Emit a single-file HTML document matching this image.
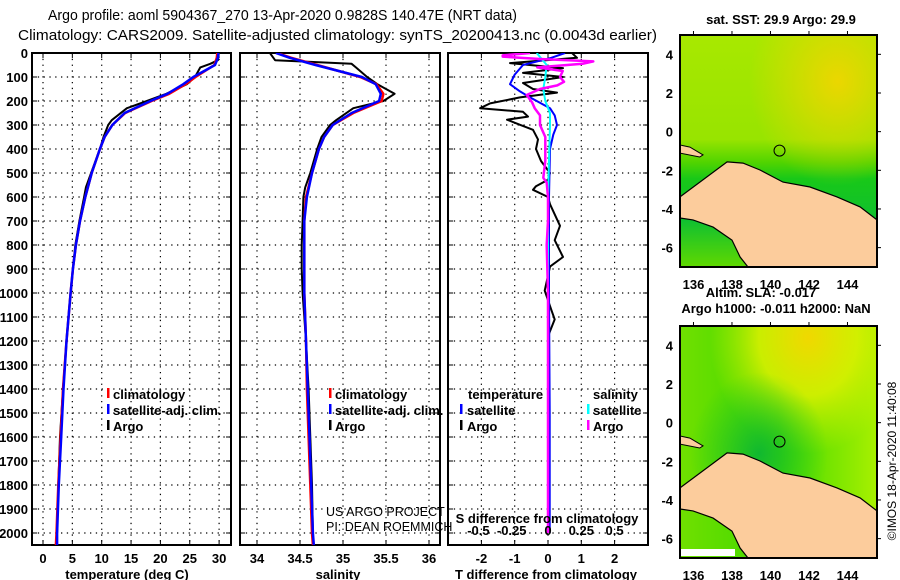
<!DOCTYPE html>
<html><head><meta charset="utf-8"><style>
html,body{margin:0;padding:0;background:#fff;}
svg{display:block;font-family:"Liberation Sans",sans-serif;}
.tk{font-weight:bold;font-size:13px;}
.lg{font-weight:bold;font-size:13px;}
</style></head><body>
<svg id="chart" width="900" height="580" viewBox="0 0 900 580" xmlns="http://www.w3.org/2000/svg">
<defs>
<clipPath id="cp1"><rect x="32" y="53" width="199" height="492"/></clipPath>
<clipPath id="cp2"><rect x="240" y="53" width="200" height="492"/></clipPath>
<clipPath id="cp3"><rect x="448" y="53" width="200" height="492"/></clipPath>
<clipPath id="cm1"><rect x="680" y="35" width="197" height="232"/></clipPath>
<clipPath id="cm2"><rect x="680" y="326" width="197" height="232"/></clipPath>
<radialGradient id="sstOrange" cx="0.8" cy="0.2" r="0.45"><stop offset="0" stop-color="#f8d400" stop-opacity="0.85"/><stop offset="1" stop-color="#f8d400" stop-opacity="0"/></radialGradient>
<linearGradient id="sstBand" x1="0" y1="0" x2="0" y2="1"><stop offset="0" stop-color="#a8e800"/><stop offset="0.45" stop-color="#98e400"/><stop offset="0.55" stop-color="#50d400"/><stop offset="0.62" stop-color="#18c818"/><stop offset="0.8" stop-color="#10c030"/><stop offset="1" stop-color="#60d800"/></linearGradient>
<linearGradient id="slaBase" x1="0" y1="0" x2="1" y2="0"><stop offset="0" stop-color="#70e000"/><stop offset="0.5" stop-color="#40d800"/><stop offset="1" stop-color="#a8f000"/></linearGradient>
<radialGradient id="slaYellow" cx="0.65" cy="0.05" r="0.5"><stop offset="0" stop-color="#f0d800"/><stop offset="0.5" stop-color="#d8f000" stop-opacity="0.9"/><stop offset="1" stop-color="#c8f000" stop-opacity="0"/></radialGradient>
<radialGradient id="slaDark" cx="0.4" cy="0.55" r="0.35"><stop offset="0" stop-color="#10b830"/><stop offset="1" stop-color="#20c820" stop-opacity="0"/></radialGradient>
</defs>
<g id="root"></g>
<g>
<text x="48" y="20" font-size="15" textLength="469" lengthAdjust="spacingAndGlyphs">Argo profile: aoml 5904367_270 13-Apr-2020 0.9828S 140.47E (NRT data)</text>
<text x="18" y="40" font-size="15" textLength="639" lengthAdjust="spacingAndGlyphs">Climatology: CARS2009. Satellite-adjusted climatology: synTS_20200413.nc (0.0043d earlier)</text>
<text class="tk" x="127" y="579" text-anchor="middle">temperature (deg C)</text>
<text class="tk" x="338" y="579" text-anchor="middle">salinity</text>
<text class="tk" x="546" y="579" text-anchor="middle">T difference from climatology</text>
<text class="tk" x="547" y="523" text-anchor="middle">S difference from climatology</text>
<g>
<rect x="107" y="388" width="2.5" height="10" fill="#f00"/><text class="lg" x="113" y="399">climatology</text>
<rect x="107" y="404" width="2.5" height="10" fill="#00f"/><text class="lg" x="113" y="415">satellite-adj. clim.</text>
<rect x="107" y="420" width="2.5" height="10" fill="#000"/><text class="lg" x="113" y="431">Argo</text>
</g>
<g>
<rect x="329" y="388" width="2.5" height="10" fill="#f00"/><text class="lg" x="335" y="399">climatology</text>
<rect x="329" y="404" width="2.5" height="10" fill="#00f"/><text class="lg" x="335" y="415">satellite-adj. clim.</text>
<rect x="329" y="420" width="2.5" height="10" fill="#000"/><text class="lg" x="335" y="431">Argo</text>
</g>
<g>
<text class="lg" x="468" y="399">temperature</text>
<rect x="460" y="404" width="2.5" height="10" fill="#00f"/><text class="lg" x="467" y="415">satellite</text>
<rect x="460" y="420" width="2.5" height="10" fill="#000"/><text class="lg" x="467" y="431">Argo</text>
<text class="lg" x="593" y="399">salinity</text>
<rect x="587" y="404" width="2.5" height="10" fill="#0ff"/><text class="lg" x="593" y="415">satellite</text>
<rect x="587" y="420" width="2.5" height="10" fill="#f0f"/><text class="lg" x="593" y="431">Argo</text>
</g>
<text x="326" y="516" font-size="12.5">US ARGO PROJECT</text>
<text x="326" y="531" font-size="12.5">PI: DEAN ROEMMICH</text>
<text class="tk" font-size="12" x="781" y="24" text-anchor="middle">sat. SST: 29.9 Argo: 29.9</text>
<text class="tk" font-size="12" x="761" y="297" text-anchor="middle">Altim. SLA: -0.017</text>
<text class="tk" font-size="12" x="776" y="313" text-anchor="middle">Argo h1000: -0.011 h2000: NaN</text>
<text font-size="12" transform="translate(896,461) rotate(-90)" text-anchor="middle">©IMOS 18-Apr-2020 11:40:08</text>
</g>
</svg>
<script>
// ---------- data ----------
const depthArgo = [0,30,45,60,100,130,170,200,230,280,300,350,400,500,560,600,700,800,900,1000,1200,1400,1600,1800,2000];
const tempArgo  = [29.8,29.8,28.5,26.8,25.9,24.5,21.0,17.7,14.3,11.7,11.1,10.3,9.7,8.2,7.3,7.0,6.2,5.5,5.1,4.7,4.0,3.4,2.9,2.6,2.4];
const depthClim = [0,20,50,100,130,170,200,250,300,350,400,500,600,700,800,900,1000,1200,1400,1600,1800,2000,2050];
const tempClim  = [29.7,29.6,29.2,26.0,24.3,21.5,18.5,14.0,11.8,10.5,9.7,8.3,7.2,6.3,5.6,5.1,4.7,4.0,3.4,3.0,2.6,2.3,2.2];
const tempSat   = [29.9,29.8,29.3,25.6,23.9,21.2,18.3,13.9,11.8,10.5,9.7,8.3,7.2,6.3,5.6,5.1,4.7,4.0,3.5,3.1,2.7,2.4,2.4];
const salArgo   = [34.15,34.21,35.1,35.15,35.28,35.4,35.6,35.47,35.12,34.92,34.85,34.75,34.7,34.62,34.56,34.54,34.53,34.52,34.52,34.53,34.57,34.6,34.62,34.64,34.65];
const salClim   = [34.23,34.4,34.7,35.2,35.39,35.47,35.45,35.12,34.88,34.78,34.72,34.64,34.57,34.55,34.55,34.55,34.55,34.57,34.58,34.6,34.62,34.64,34.65];
const salSat    = [34.22,34.38,34.68,35.22,35.38,35.44,35.42,35.10,34.88,34.78,34.72,34.64,34.58,34.55,34.55,34.55,34.55,34.57,34.59,34.61,34.63,34.65,34.66];
const depthDT   = [0,20,42,63,83,100,125,150,165,185,210,230,245,265,278,299,320,360,400,450,500,528,555,570,600,630,720,780,850,890,990,1070,1110,1180,1300,1500,1700,1900,2000];
const dTArgo    = [0.72,0.87,-1.14,0.45,-0.75,0.45,-0.75,-0.45,0.27,-0.84,-1.74,-2.04,-0.75,-0.6,-1.23,-0.84,-0.45,-0.3,-0.36,-0.21,0.06,0.0,-0.36,-0.45,0.0,0.06,0.36,0.2,0.45,0.06,-0.1,0.1,0.2,0.0,0.02,0.02,0.0,0.02,0.0];
const depthDTs  = [0,20,50,90,130,160,180,230,260,300,340,400,600,1000,1500,2000];
const dTSat     = [0.51,0.1,-0.75,-1.0,-1.14,-0.84,-0.6,0.06,0.2,0.27,0.16,0.06,0.03,0.03,0.05,0.05];
const depthDS   = [0,10,15,25,35,45,60,75,100,120,135,150,175,205,230,260,300,350,450,520,540,600,700,800,1000,1500,2000];
const dSArgo    = [-0.135,-0.34,-0.34,-0.06,0.34,0.26,-0.08,0.11,0.09,0.12,0.07,-0.06,-0.16,-0.12,-0.1,-0.06,-0.06,-0.02,-0.02,-0.035,-0.01,0.0,0.0,-0.01,0.0,0.0,0.0];
const depthDSs  = [0,50,100,150,200,250,300,400,600,1000,2000];
const dSSat     = [-0.085,-0.01,-0.02,-0.035,-0.02,0.015,0.015,0.01,0.0,0.0,0.0];
const depthTicks = [0,100,200,300,400,500,600,700,800,900,1000,1100,1200,1300,1400,1500,1600,1700,1800,1900,2000];
const tempTicks = [0,5,10,15,20,25,30];
const salTicks = [34,34.5,35,35.5,36];
const dTTicks = [-2,-1,0,1,2];
const dSTicks = [-0.5,-0.25,0,0.25,0.5];
const lonTicks = [136,138,140,142,144];
const latTicks = [4,2,0,-2,-4,-6];
const floatLon = 140.47, floatLat = -0.9828;

// ---------- scales ----------
const NS='http://www.w3.org/2000/svg';
const root=document.getElementById('root');
const yD = d => 53 + d*0.24;
const xT = t => 43 + t*5.87;
const xS = s => 257 + (s-34)*86;
const xdT = t => 548 + t*33.3;
const xdS = s => 548 + s*133.2;
function mk(tag, attrs, parent){const e=document.createElementNS(NS,tag);for(const k in attrs)e.setAttribute(k,attrs[k]);(parent||root).appendChild(e);return e;}
function txt(x,y,s,cls,anchor,parent){const t=mk('text',{x:x,y:y,class:cls||'tk','text-anchor':anchor||'middle'},parent);t.textContent=s;return t;}

// ---------- panels ----------
const panels=[{x0:32,x1:231,cp:'cp1',ticks:tempTicks,sx:xT,name:'temperature-panel'},
              {x0:240,x1:440,cp:'cp2',ticks:salTicks,sx:xS,name:'salinity-panel'},
              {x0:448,x1:648,cp:'cp3',ticks:dTTicks,sx:xdT,name:'difference-panel'}];
panels.forEach(p=>{
  const g=mk('g',{});
  
  
  depthTicks.forEach(d=>{
    const y=yD(d);
    if(d>0) mk('line',{x1:p.x0,x2:p.x1,y1:y,y2:y,stroke:'#000','stroke-width':1.2,'stroke-dasharray':'1.3 4.5'},g);
    mk('line',{x1:p.x0,x2:p.x0+5,y1:y,y2:y,stroke:'#000','stroke-width':1},g);
    mk('line',{x1:p.x1-5,x2:p.x1,y1:y,y2:y,stroke:'#000','stroke-width':1},g);
  });
  p.ticks.forEach(v=>{
    const x=p.sx(v);
    mk('line',{x1:x,x2:x,y1:53,y2:545,stroke:'#000','stroke-width':1.2,'stroke-dasharray':'1.3 4.5'},g);
    mk('line',{x1:x,x2:x,y1:53,y2:58,stroke:'#000'},g);
    mk('line',{x1:x,x2:x,y1:540,y2:545,stroke:'#000'},g);
    const l=txt(x,563,String(v),'tk','middle',g);
    
    
  });
  mk('rect',{x:p.x0,y:53,width:p.x1-p.x0,height:492,fill:'none',stroke:'#000','stroke-width':2},g);
});
depthTicks.forEach(d=>{
  const l=txt(28,yD(d)+5,String(d),'tk','end');
  
  
});

function series(depths, vals, sx, color, w, cp, name){
  const pts=depths.map((d,i)=>sx(vals[i]).toFixed(1)+','+yD(d).toFixed(1)).join(' ');
  const e=mk('polyline',{points:pts,fill:'none',stroke:color,'stroke-width':w,'clip-path':'url(#'+cp+')','stroke-linejoin':'round'});
  
  
}
series(depthArgo,tempArgo,xT,'#000',2,'cp1','temperature-argo-line');
series(depthClim,tempClim,xT,'#f00',2.5,'cp1','temperature-climatology-line');
series(depthClim,tempSat,xT,'#00f',2.5,'cp1','temperature-satellite-line');
series(depthArgo,salArgo,xS,'#000',2,'cp2','salinity-argo-line');
series(depthClim,salClim,xS,'#f00',2.5,'cp2','salinity-climatology-line');
series(depthClim,salSat,xS,'#00f',2.5,'cp2','salinity-satellite-line');
series(depthDT,dTArgo,xdT,'#000',2,'cp3','t-diff-argo-line');
series(depthDTs,dTSat,xdT,'#00f',2,'cp3','t-diff-satellite-line');
series(depthDSs,dSSat,xdS,'#0ff',2,'cp3','s-diff-satellite-line');
series(depthDS,dSArgo,xdS,'#f0f',2.5,'cp3','s-diff-argo-line');

dSTicks.forEach(v=>{const l=txt(xdS(v)+ (v<0?-3:0),535,String(v),'tk','middle');
  
  });

// ---------- maps ----------
const land=[[0,0.698],[0.239,0.547],[0.32,0.552],[0.406,0.582],[0.523,0.634],[0.66,0.655],[0.797,0.698],[0.914,0.741],[1,0.797],[1,1],[0.345,1],[0.305,0.957],[0.264,0.884],[0.168,0.828],[0.066,0.797],[0,0.789]];
const island=[[0,0.474],[0.05,0.483],[0.117,0.517],[0.1,0.526],[0,0.509]];
function map(y0,cp,base,overlays,name){
  const g=mk('g',{'clip-path':'url(#'+cp+')'});
  
  
  mk('rect',{x:680,y:y0,width:197,height:232,fill:base},g);
  overlays.forEach(o=>mk('rect',{x:680,y:y0,width:197,height:232,fill:o},g));
  const P=a=>a.map(q=>(680+q[0]*197).toFixed(1)+','+(y0+q[1]*232).toFixed(1)).join(' ');
  mk('polygon',{points:P(land),fill:'#fccc9c',stroke:'#000','stroke-width':1.2},g);
  mk('polygon',{points:P(island),fill:'#fccc9c',stroke:'#000','stroke-width':1},g);
  const lx=lon=>680+(lon-135.3)*19.25, ly=lat=>y0+(5-lat)*19.33;
  mk('circle',{cx:lx(floatLon),cy:ly(floatLat),r:5.5,fill:'none',stroke:'#000','stroke-width':1},g);
  mk('rect',{x:680,y:y0,width:197,height:232,fill:'none',stroke:'#000','stroke-width':2});
  lonTicks.forEach(v=>{const x=lx(v);
    mk('line',{x1:x,x2:x,y1:y0-4,y2:y0,stroke:'#000'});
    const l=txt(x,y0+254,String(v),'tk','middle');
    
    });
  latTicks.forEach(v=>{const y=ly(v);
    mk('line',{x1:877,x2:881,y1:y,y2:y,stroke:'#000'});
    const l=txt(673,y+5,String(v),'tk','end');
    
    });
}
map(35,'cm1','url(#sstBand)',['url(#sstOrange)'],'sst-map');
map(326,'cm2','url(#slaBase)',['url(#slaYellow)','url(#slaDark)'],'sla-map');
mk('rect',{x:681,y:549,width:54,height:7,fill:'#fff'});
</script>
</body></html>
